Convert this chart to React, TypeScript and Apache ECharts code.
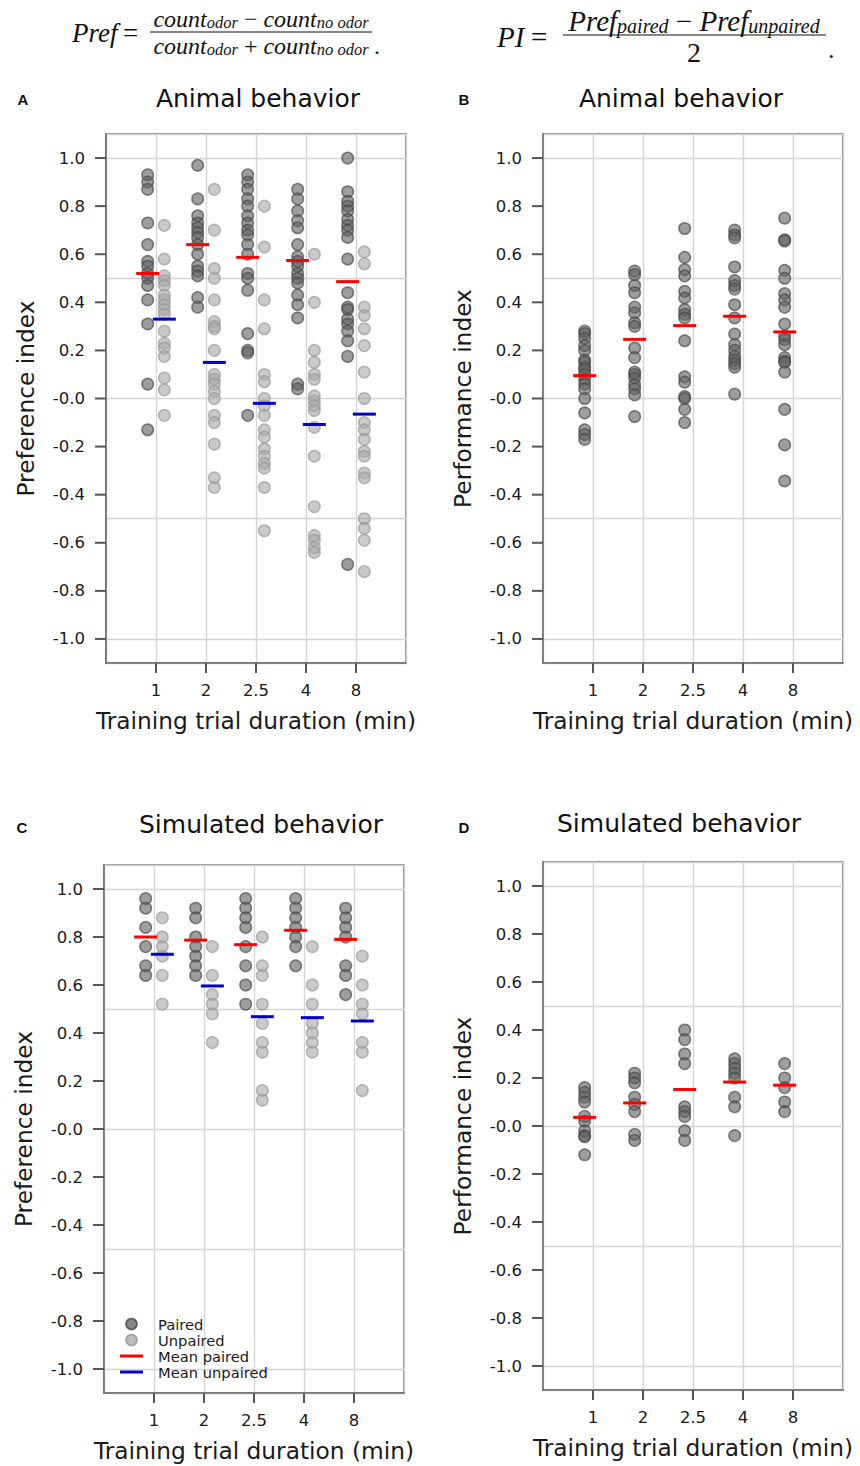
import React, { useEffect, useRef } from 'react';
import * as echarts from 'echarts';

// ---------- categories / ticks ----------
const durationLabels = ['1', '2', '2.5', '4', '8'];
const xPositions = [1, 2, 3, 4, 5];
const yTickValues = [-1.0, -0.8, -0.6, -0.4, -0.2, 0.0, 0.2, 0.4, 0.6, 0.8, 1.0];
const yTickLabels = ['-1.0', '-0.8', '-0.6', '-0.4', '-0.2', '-0.0', '0.2', '0.4', '0.6', '0.8', '1.0'];

// ---------- A: animal behavior, preference index ----------
const animalPaired = [
  [0.93, 0.9, 0.87, 0.73, 0.64, 0.57, 0.55, 0.52, 0.5, 0.47, 0.41, 0.31, 0.06, -0.13],
  [0.97, 0.83, 0.76, 0.73, 0.71, 0.69, 0.67, 0.64, 0.6, 0.55, 0.53, 0.51, 0.42, 0.38],
  [0.93, 0.9, 0.87, 0.83, 0.8, 0.76, 0.73, 0.7, 0.68, 0.64, 0.6, 0.52, 0.5, 0.45, 0.27, 0.2, 0.19, -0.07],
  [0.87, 0.83, 0.78, 0.74, 0.71, 0.64, 0.59, 0.57, 0.55, 0.52, 0.5, 0.48, 0.43, 0.39, 0.335, 0.06, 0.04],
  [1.0, 0.86, 0.82, 0.8, 0.78, 0.745, 0.72, 0.7, 0.67, 0.58, 0.44, 0.38, 0.37, 0.33, 0.31, 0.28, 0.24, 0.175, -0.69],
];
const animalUnpaired = [
  [0.72, 0.58, 0.51, 0.49, 0.47, 0.43, 0.41, 0.39, 0.37, 0.35, 0.28, 0.23, 0.21, 0.175, 0.085, 0.036, -0.07],
  [0.87, 0.7, 0.54, 0.5, 0.41, 0.32, 0.3, 0.29, 0.2, 0.1, 0.08, 0.06, 0.03, 0.0, -0.07, -0.1, -0.19, -0.33, -0.37],
  [0.8, 0.63, 0.41, 0.29, 0.1, 0.07, 0.0, -0.03, -0.07, -0.13, -0.16, -0.21, -0.24, -0.27, -0.29, -0.37, -0.55],
  [0.6, 0.4, 0.2, 0.15, 0.1, 0.08, 0.01, -0.01, -0.03, -0.05, -0.12, -0.24, -0.45, -0.57, -0.59, -0.62, -0.64],
  [0.61, 0.56, 0.38, 0.345, 0.29, 0.22, 0.11, 0.0, -0.1, -0.13, -0.17, -0.22, -0.24, -0.31, -0.33, -0.5, -0.54, -0.59, -0.72],
];
const animalPairedMean = [0.52, 0.64, 0.587, 0.574, 0.486];
const animalUnpairedMean = [0.33, 0.15, -0.02, -0.108, -0.065];

// ---------- B: animal behavior, performance index ----------
const animalPI = [
  [0.28, 0.27, 0.25, 0.22, 0.2, 0.16, 0.15, 0.13, 0.12, 0.1, 0.08, 0.06, 0.04, 0.0, -0.06, -0.13, -0.15, -0.17],
  [0.53, 0.515, 0.47, 0.44, 0.38, 0.356, 0.315, 0.3, 0.21, 0.17, 0.11, 0.1, 0.085, 0.057, 0.04, 0.015, -0.075],
  [0.707, 0.587, 0.536, 0.51, 0.446, 0.418, 0.37, 0.35, 0.335, 0.24, 0.09, 0.068, 0.008, 0.0, -0.045, -0.1],
  [0.7, 0.68, 0.668, 0.547, 0.49, 0.47, 0.455, 0.39, 0.335, 0.268, 0.224, 0.2, 0.175, 0.16, 0.145, 0.13, 0.018],
  [0.75, 0.66, 0.655, 0.533, 0.5, 0.436, 0.41, 0.38, 0.31, 0.26, 0.245, 0.224, 0.17, 0.155, 0.15, 0.11, -0.045, -0.193, -0.343],
];
const animalPIMean = [0.095, 0.246, 0.303, 0.342, 0.277];

// ---------- C: simulated behavior, preference index ----------
const simPaired = [
  [0.96, 0.92, 0.84, 0.76, 0.68, 0.64],
  [0.92, 0.88, 0.8, 0.76, 0.72, 0.68, 0.64],
  [0.96, 0.92, 0.88, 0.84, 0.76, 0.68, 0.6, 0.52],
  [0.96, 0.92, 0.88, 0.84, 0.8, 0.76, 0.68],
  [0.92, 0.88, 0.84, 0.8, 0.68, 0.64, 0.56],
];
const simUnpaired = [
  [0.88, 0.8, 0.76, 0.72, 0.64, 0.52],
  [0.76, 0.64, 0.56, 0.52, 0.48, 0.36],
  [0.8, 0.68, 0.64, 0.52, 0.44, 0.36, 0.32, 0.16, 0.12],
  [0.76, 0.6, 0.52, 0.44, 0.4, 0.36, 0.32],
  [0.72, 0.6, 0.52, 0.48, 0.36, 0.32, 0.16],
];
const simPairedMean = [0.8, 0.787, 0.768, 0.828, 0.79];
const simUnpairedMean = [0.728, 0.596, 0.468, 0.464, 0.45];

// ---------- D: simulated behavior, performance index ----------
const simPI = [
  [0.16, 0.14, 0.12, 0.1, 0.04, 0.02, -0.02, -0.04, -0.045, -0.12],
  [0.22, 0.2, 0.18, 0.12, 0.09, 0.06, -0.035, -0.06],
  [0.4, 0.36, 0.3, 0.26, 0.08, 0.06, 0.04, -0.02, -0.06],
  [0.28, 0.26, 0.24, 0.22, 0.2, 0.12, 0.08, -0.04],
  [0.26, 0.2, 0.16, 0.1, 0.06],
];
const simPIMean = [0.036, 0.096, 0.152, 0.183, 0.17];

// ---------- styling ----------
const SANS = 'DejaVu Sans';
const SERIF = 'Liberation Serif';
const TXT = '#1a1a1a';
const FRAME = '#6b6b6b';
const TICK = '#555555';
const PAIRED_FILL = 'rgba(96,96,96,0.76)';
const PAIRED_EDGE = 'rgba(72,72,72,0.85)';
const UNPAIRED_FILL = 'rgba(170,170,170,0.78)';
const UNPAIRED_EDGE = 'rgba(152,152,152,0.85)';
const OFFSET = 1 / 6;
const X_MIN = 0;
const X_MAX = 6;
const Y_MIN = -1.1;
const Y_MAX = 1.1;

const grids = [
  { left: 106, top: 134, width: 300, height: 529 },
  { left: 543, top: 134, width: 300, height: 529 },
  { left: 104, top: 865, width: 300, height: 528 },
  { left: 543, top: 862, width: 300, height: 528 },
];
const yNames = ['Preference index', 'Performance index', 'Preference index', 'Performance index'];

function pointSeries(name: string, groups: number[][], off: number, idx: number, fill: string, edge: string) {
  const data: number[][] = [];
  groups.forEach((g, i) => g.forEach((v) => data.push([xPositions[i] + off, v])));
  return {
    name,
    type: 'scatter',
    xAxisIndex: idx,
    yAxisIndex: idx,
    data,
    symbol: 'circle',
    symbolSize: 11.5,
    itemStyle: { color: fill, borderColor: edge, borderWidth: 1.5 },
    z: 2,
    silent: true,
  };
}

function meanSeries(name: string, means: number[], off: number, idx: number, color: string) {
  return {
    name,
    type: 'scatter',
    xAxisIndex: idx,
    yAxisIndex: idx,
    data: means.map((m, i) => [xPositions[i] + off, m]),
    symbol: 'rect',
    symbolSize: [23, 3],
    itemStyle: { color, opacity: 1 },
    z: 5,
    silent: true,
  };
}

// outward tick marks placed through the axes' own scales
function tickSeries(idx: number) {
  const data: number[][] = [
    ...xPositions.map((x) => [x, Y_MIN, 0]),
    ...yTickValues.map((v) => [X_MIN, v, 1]),
  ];
  return {
    type: 'custom',
    xAxisIndex: idx,
    yAxisIndex: idx,
    clip: false,
    silent: true,
    z: 20,
    data,
    encode: { x: 0, y: 1 },
    renderItem: (_params: any, api: any) => {
      const p = api.coord([api.value(0), api.value(1)]);
      const kind = api.value(2);
      if (kind === 0) {
        return { type: 'line', shape: { x1: p[0], y1: p[1], x2: p[0], y2: p[1] + 10 }, style: { stroke: TICK, lineWidth: 2 } };
      }
      return { type: 'line', shape: { x1: p[0] - 11, y1: p[1], x2: p[0], y2: p[1] }, style: { stroke: TICK, lineWidth: 2 } };
    },
  };
}

function buildOption() {
  const xAxis = grids.map((_, i) => ({
    type: 'value',
    gridIndex: i,
    min: X_MIN,
    max: X_MAX,
    axisLine: { show: true, onZero: false, lineStyle: { color: FRAME, width: 1.5 } },
    axisTick: { show: false },
    axisLabel: {
      customValues: xPositions,
      formatter: (v: number) => durationLabels[Math.round(v) - 1] ?? '',
      fontFamily: SANS,
      fontSize: 16.5,
      color: TXT,
      margin: 19,
    },
    splitLine: { show: true, lineStyle: { color: '#d4d4d4', width: 1.4 } },
    name: 'Training trial duration (min)',
    nameLocation: 'middle',
    nameGap: 46,
    nameTextStyle: { fontFamily: SANS, fontSize: 23.3, color: TXT },
  }));
  const yAxis = grids.map((_, i) => ({
    type: 'value',
    gridIndex: i,
    min: Y_MIN,
    max: Y_MAX,
    axisLine: { show: true, onZero: false, lineStyle: { color: FRAME, width: 1.5 } },
    axisTick: { show: false },
    axisLabel: {
      customValues: yTickValues,
      formatter: (v: number) => yTickLabels[Math.round((v + 1) * 5)] ?? '',
      fontFamily: SANS,
      fontSize: 16.5,
      color: TXT,
      margin: 21,
    },
    splitLine: { show: true, lineStyle: { color: '#d4d4d4', width: 1.4 } },
    name: yNames[i],
    nameLocation: 'middle',
    nameGap: 69,
    nameTextStyle: { fontFamily: SANS, fontSize: 23.3, color: TXT },
  }));

  const series: any[] = [
    pointSeries('Paired', animalPaired, -OFFSET, 0, PAIRED_FILL, PAIRED_EDGE),
    pointSeries('Unpaired', animalUnpaired, OFFSET, 0, UNPAIRED_FILL, UNPAIRED_EDGE),
    meanSeries('Mean paired', animalPairedMean, -OFFSET, 0, '#ff0000'),
    meanSeries('Mean unpaired', animalUnpairedMean, OFFSET, 0, '#0000cc'),
    pointSeries('Paired', animalPI, -OFFSET, 1, PAIRED_FILL, PAIRED_EDGE),
    meanSeries('Mean paired', animalPIMean, -OFFSET, 1, '#ff0000'),
    pointSeries('Paired', simPaired, -OFFSET, 2, PAIRED_FILL, PAIRED_EDGE),
    pointSeries('Unpaired', simUnpaired, OFFSET, 2, UNPAIRED_FILL, UNPAIRED_EDGE),
    meanSeries('Mean paired', simPairedMean, -OFFSET, 2, '#ff0000'),
    meanSeries('Mean unpaired', simUnpairedMean, OFFSET, 2, '#0000cc'),
    pointSeries('Paired', simPI, -OFFSET, 3, PAIRED_FILL, PAIRED_EDGE),
    meanSeries('Mean paired', simPIMean, -OFFSET, 3, '#ff0000'),
    tickSeries(0),
    tickSeries(1),
    tickSeries(2),
    tickSeries(3),
  ];

  const titleText = (text: string, x: number, y: number) => ({
    type: 'text', x, y,
    style: { text, fontFamily: SANS, fontSize: 25, fill: '#111', align: 'center', verticalAlign: 'middle' },
  });
  const letter = (text: string, x: number, y: number) => ({
    type: 'text', x, y,
    style: { text, fontFamily: 'Liberation Sans', fontWeight: 'bold', fontSize: 15, fill: '#111', align: 'center', verticalAlign: 'middle' },
  });

  const legendRows = [
    { label: 'Paired', kind: 'dot', color: PAIRED_FILL, edge: PAIRED_EDGE, y: 1324 },
    { label: 'Unpaired', kind: 'dot', color: UNPAIRED_FILL, edge: UNPAIRED_EDGE, y: 1340 },
    { label: 'Mean paired', kind: 'line', color: '#ff0000', edge: '', y: 1356 },
    { label: 'Mean unpaired', kind: 'line', color: '#0000cc', edge: '', y: 1372 },
  ];
  const legendEls: any[] = [];
  legendRows.forEach((r) => {
    if (r.kind === 'dot') {
      legendEls.push({ type: 'circle', shape: { cx: 131.5, cy: r.y, r: 5.5 }, style: { fill: r.color, stroke: r.edge, lineWidth: 1.5 }, z: 10 });
    } else {
      legendEls.push({ type: 'line', shape: { x1: 120, y1: r.y, x2: 143, y2: r.y }, style: { stroke: r.color, lineWidth: 3 }, z: 10 });
    }
    legendEls.push({
      type: 'text', x: 158, y: r.y, z: 10,
      style: { text: r.label, fontFamily: SANS, fontSize: 14.7, fill: TXT, align: 'left', verticalAlign: 'middle' },
    });
  });

  const rich = (m: number, s: number) => ({
    m: { fontFamily: SERIF, fontStyle: 'italic', fontSize: m, fill: '#111', verticalAlign: 'bottom', lineHeight: m + 2 },
    n: { fontFamily: SERIF, fontSize: m, fill: '#111', verticalAlign: 'bottom', lineHeight: m + 2 },
    s: { fontFamily: SERIF, fontStyle: 'italic', fontSize: s, fill: '#111', verticalAlign: 'bottom', lineHeight: s - 3 },
  });

  const formulaEls: any[] = [
    { type: 'text', x: 72, y: 33, style: { text: 'Pref', fontFamily: SERIF, fontStyle: 'italic', fontSize: 27, fill: '#111', align: 'left', verticalAlign: 'middle' } },
    { type: 'text', x: 123, y: 33, style: { text: '=', fontFamily: SERIF, fontSize: 27, fill: '#111', align: 'left', verticalAlign: 'middle' } },
    { type: 'text', x: 261, y: 18, style: { text: '{m|count}{s|odor}{n| − }{m|count}{s|no odor}', rich: rich(24, 16.5), align: 'center', verticalAlign: 'middle' } },
    { type: 'line', shape: { x1: 150, y1: 32, x2: 372, y2: 32 }, style: { stroke: '#111', lineWidth: 1.2 } },
    { type: 'text', x: 261, y: 45, style: { text: '{m|count}{s|odor}{n| + }{m|count}{s|no odor}', rich: rich(24, 16.5), align: 'center', verticalAlign: 'middle' } },
    { type: 'text', x: 374, y: 46, style: { text: '.', fontFamily: SERIF, fontSize: 24, fill: '#111', align: 'left', verticalAlign: 'middle' } },

    { type: 'text', x: 497, y: 37, style: { text: 'PI', fontFamily: SERIF, fontStyle: 'italic', fontSize: 29, fill: '#111', align: 'left', verticalAlign: 'middle' } },
    { type: 'text', x: 531, y: 37, style: { text: '=', fontFamily: SERIF, fontSize: 29, fill: '#111', align: 'left', verticalAlign: 'middle' } },
    { type: 'text', x: 694, y: 20, style: { text: '{m|Pref}{s|paired}{n| − }{m|Pref}{s|unpaired}', rich: rich(29, 20), align: 'center', verticalAlign: 'middle' } },
    { type: 'line', shape: { x1: 563, y1: 35, x2: 826, y2: 35 }, style: { stroke: '#111', lineWidth: 1.2 } },
    { type: 'text', x: 694, y: 52, style: { text: '2', fontFamily: SERIF, fontSize: 28, fill: '#111', align: 'center', verticalAlign: 'middle' } },
    { type: 'text', x: 828, y: 49, style: { text: '.', fontFamily: SERIF, fontSize: 26, fill: '#111', align: 'left', verticalAlign: 'middle' } },
  ];

  return {
    animation: false,
    backgroundColor: '#ffffff',
    grid: grids.map((g) => ({ ...g, show: true, borderColor: FRAME, borderWidth: 1.5 })),
    xAxis,
    yAxis,
    series,
    graphic: [
      letter('A', 23, 99),
      titleText('Animal behavior', 258, 98),
      letter('B', 464, 99),
      titleText('Animal behavior', 681, 98),
      letter('C', 22, 827),
      titleText('Simulated behavior', 261, 824),
      letter('D', 464, 827),
      titleText('Simulated behavior', 679, 823),
      ...legendEls,
      ...formulaEls,
    ],
  };
}

export default function App() {
  const ref = useRef<HTMLDivElement>(null);
  useEffect(() => {
    if (!ref.current) return;
    const chart = echarts.init(ref.current, null, { renderer: 'svg' });
    chart.setOption(buildOption() as any);
    return () => chart.dispose();
  }, []);
  return <div ref={ref} style={{ position: 'absolute', left: 0, top: 0, width: 860, height: 1466 }} />;
}
